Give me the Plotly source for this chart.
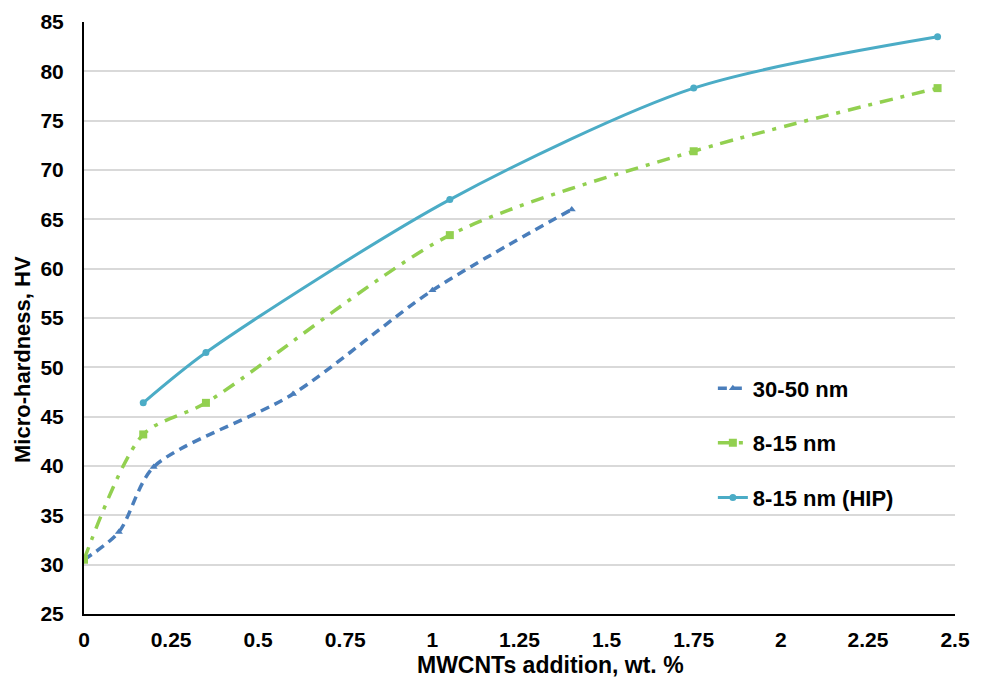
import plotly.graph_objects as go

x_3050 = [0, 0.1, 0.2, 0.6, 1.0, 1.4]
y_3050 = [30.5, 33.3, 39.9, 47.3, 57.8, 66.0]

x_815 = [0, 0.17, 0.35, 1.05, 1.75, 2.45]
y_815 = [30.5, 43.2, 46.4, 63.4, 71.9, 78.3]

x_hip = [0.17, 0.35, 1.05, 1.75, 2.45]
y_hip = [46.4, 51.5, 67.0, 78.3, 83.5]

x_ticks = [0, 0.25, 0.5, 0.75, 1, 1.25, 1.5, 1.75, 2, 2.25, 2.5]
x_ticklabels = ["0", "0.25", "0.5", "0.75", "1", "1.25", "1.5", "1.75", "2", "2.25", "2.5"]
y_ticks = [25, 30, 35, 40, 45, 50, 55, 60, 65, 70, 75, 80, 85]

font_family = "Liberation Sans, Arial, sans-serif"

fig = go.Figure()
fig.add_trace(go.Scatter(
    x=x_3050, y=y_3050, name="<b>30-50 nm</b>", legendgroup="a",
    mode="lines+markers", line=dict(color="#4a7ebb", width=3.5, dash="9px,6px", shape="spline", smoothing=0.8),
    marker=dict(symbol="triangle-up", size=7, color="#4a7ebb")))
fig.add_trace(go.Scatter(
    x=x_815, y=y_815, name="<b>8-15 nm</b>", legendgroup="b",
    mode="lines+markers", line=dict(color="#92d050", width=3.5, dash="13px,8px,4px,8px", shape="spline", smoothing=0.8),
    marker=dict(symbol="square", size=8, color="#92d050")))
fig.add_trace(go.Scatter(
    x=x_hip, y=y_hip, name="<b>8-15 nm (HIP)</b>", legendgroup="c",
    mode="lines+markers", line=dict(color="#4bacc6", width=3, shape="spline", smoothing=0.8),
    marker=dict(symbol="circle", size=7, color="#4bacc6")))

fig.add_annotation(text="<b>Micro-hardness, HV</b>", textangle=-90,
                   xref="paper", yref="paper", x=-62 / 871, y=(614 - 360) / 592,
                   xanchor="center", yanchor="middle", showarrow=False,
                   font=dict(size=22, family=font_family, color="black"))
fig.add_annotation(text="<b>MWCNTs addition, wt. %</b>",
                   xref="paper", yref="paper", x=(550 - 84) / 871, y=(614 - 665) / 592,
                   xanchor="center", yanchor="middle", showarrow=False,
                   font=dict(size=23, family=font_family, color="black"))

fig.update_layout(
    width=974, height=673,
    margin=dict(l=76, r=27, t=14, b=67),
    plot_bgcolor="white", paper_bgcolor="white",
    font=dict(family=font_family, color="black"),
    legend=dict(x=0.722, y=0.4165, xanchor="left", yanchor="top",
                font=dict(size=22, family=font_family, color="black"),
                tracegroupgap=23, bgcolor="rgba(255,255,255,0)"),
    xaxis=dict(range=[0, 2.5], tickvals=x_ticks, ticktext=["<b>%s</b>" % t for t in x_ticklabels],
               showgrid=False, zeroline=False, showline=True, linecolor="black", linewidth=2,
               ticks="", tickfont=dict(size=21), ticklabelstandoff=6, automargin=False),
    yaxis=dict(range=[25, 85], tickvals=y_ticks, ticktext=["<b>%d</b>" % t for t in y_ticks],
               showgrid=True, gridcolor="#d9d9d9", gridwidth=1.5, zeroline=False,
               showline=True, linecolor="black", linewidth=2,
               ticks="", tickfont=dict(size=21), ticklabelstandoff=14, automargin=False),
)

fig.write_html("out.html")
